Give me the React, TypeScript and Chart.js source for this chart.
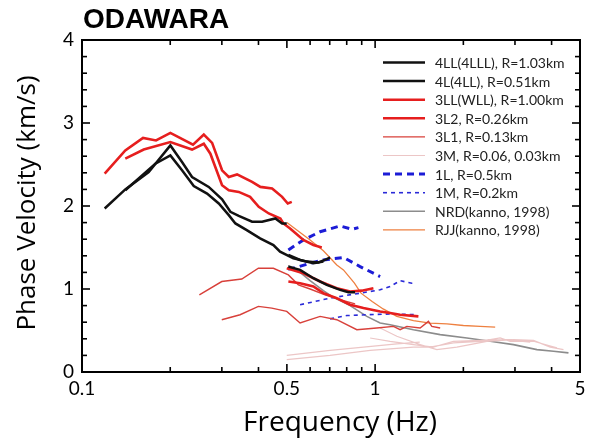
import React, { useEffect, useRef } from 'react';
import { Chart, registerables } from 'chart.js';
Chart.register(...registerables);

type P = [number, number];

// Axis ticks
const xTickValues = [0.1, 0.2, 0.3, 0.4, 0.5, 0.6, 0.7, 0.8, 0.9, 1, 2, 3, 4, 5];
const xTickLabels = ['0.1', '0.5', '1', '5'];
const yMajor = [0, 1, 2, 3, 4];

// 4LL(4LLL), R=1.03km
const ll4Main: P[] = [[0.1195, 1.97], [0.1405, 2.2], [0.1689, 2.41], [0.2002, 2.73], [0.2194, 2.53], [0.2374, 2.35], [0.2706, 2.23], [0.3005, 2.08], [0.3208, 1.93], [0.3426, 1.88], [0.3804, 1.81], [0.4116, 1.81], [0.4568, 1.85], [0.4816, 1.79], [0.4995, 1.79]];
const ll4High: P[] = [[0.5059, 1.41], [0.5546, 1.35], [0.6157, 1.31], [0.6661, 1.33]];
// 4L(4LL), R=0.51km
const l4Main: P[] = [[0.1405, 2.19], [0.1779, 2.51], [0.2002, 2.61], [0.2194, 2.43], [0.2406, 2.24], [0.2671, 2.15], [0.2928, 2.03], [0.3168, 1.89], [0.3337, 1.79], [0.3648, 1.71], [0.4051, 1.61], [0.4497, 1.53], [0.474, 1.45], [0.5263, 1.37], [0.5847, 1.33], [0.6405, 1.32], [0.6839, 1.36], [0.7019, 1.38]];
const l4High: P[] = [[0.5059, 1.27], [0.5546, 1.23], [0.6157, 1.13], [0.6839, 1.05], [0.7596, 0.99], [0.8106, 0.96], [0.8545, 0.96]];
// 3LL(WLL), R=1.00km
const ll3Main: P[] = [[0.1195, 2.39], [0.1405, 2.67], [0.1615, 2.82], [0.1789, 2.79], [0.2002, 2.88], [0.2392, 2.74], [0.2603, 2.86], [0.2779, 2.76], [0.3005, 2.43], [0.3168, 2.35], [0.3381, 2.38], [0.3804, 2.29], [0.406, 2.23], [0.4452, 2.21], [0.4816, 2.11], [0.5035, 2.03], [0.5196, 2.05]];
const ll3High: P[] = [[0.4995, 1.25], [0.5693, 1.19], [0.6491, 1.09], [0.74, 1.01], [0.8216, 0.97], [0.9008, 0.98], [0.9867, 1.01]];
// 3L2, R=0.26km
const l32Main: P[] = [[0.1405, 2.57], [0.1624, 2.68], [0.2002, 2.77], [0.2374, 2.68], [0.2603, 2.75], [0.2741, 2.63], [0.3005, 2.25], [0.3168, 2.19], [0.3426, 2.17], [0.3745, 2.11], [0.4009, 1.99], [0.4337, 1.91], [0.4751, 1.85], [0.4864, 1.79], [0.5128, 1.73], [0.5693, 1.59], [0.6157, 1.53], [0.6578, 1.5]];
const l32High: P[] = [[0.5059, 1.09], [0.5546, 1.07], [0.6157, 1.03], [0.6661, 0.95], [0.74, 0.89], [0.8216, 0.81], [0.9123, 0.77], [1.04, 0.73], [1.125, 0.71], [1.217, 0.69], [1.405, 0.67]];
// 3L1, R=0.13km
const l31Upper: P[] = [[0.2514, 0.93], [0.2998, 1.09], [0.3508, 1.12], [0.3997, 1.25], [0.4497, 1.25], [0.5059, 1.17], [0.5473, 1.05], [0.6, 1.0], [0.675, 0.93], [0.7596, 0.87], [0.8545, 0.82]];
const l31Lower: P[] = [[0.2998, 0.63], [0.3462, 0.69], [0.3997, 0.79], [0.4441, 0.77], [0.4995, 0.73], [0.5546, 0.59], [0.6491, 0.67], [0.74, 0.63], [0.866, 0.51], [1.013, 0.53], [1.155, 0.55], [1.217, 0.51], [1.283, 0.55], [1.424, 0.53], [1.52, 0.61], [1.561, 0.55], [1.667, 0.53]];
// 3M, R=0.06, 0.03km
const m3a: P[] = [[0.4995, 0.2], [0.7019, 0.26], [0.9123, 0.3], [1.186, 0.34], [1.42, 0.36]];
const m3b: P[] = [[0.4995, 0.15], [0.7019, 0.2], [0.9615, 0.26], [1.351, 0.3], [1.54, 0.3], [1.85, 0.35], [2.282, 0.37], [2.671, 0.41], [2.888, 0.37], [3.47, 0.37], [4.17, 0.29]];
const m3c: P[] = [[0.9615, 0.41], [1.125, 0.37], [1.351, 0.33], [1.581, 0.3], [1.85, 0.37], [2.282, 0.38], [2.778, 0.39], [3.381, 0.36]];
const m3d: P[] = [[1.04, 0.53], [1.186, 0.43], [1.424, 0.33], [1.624, 0.27], [1.9, 0.3], [2.406, 0.37], [2.965, 0.39], [3.47, 0.38], [3.956, 0.3], [4.392, 0.27]];
// 1L, R=0.5km
const l1a: P[] = [[0.5059, 1.47], [0.5693, 1.59], [0.6491, 1.69], [0.7596, 1.76], [0.8326, 1.72], [0.877, 1.74]];
const l1b: P[] = [[0.5047, 1.24], [0.5263, 1.25], [0.6, 1.31], [0.6661, 1.35], [0.7797, 1.38], [0.8888, 1.27], [1.04, 1.15]];
// 1M, R=0.2km
const m1a: P[] = [[0.5546, 0.81], [0.7019, 0.89], [0.8888, 0.95], [1.04, 0.99], [1.125, 1.03], [1.217, 1.1], [1.335, 1.07], [1.36, 1.07]];
const m1b: P[] = [[0.7019, 0.64], [0.8006, 0.68], [0.937, 0.69], [1.155, 0.7], [1.388, 0.69]];
// NRD(kanno, 1998)
const nrd: P[] = [[0.5047, 1.28], [0.5263, 1.26], [0.5546, 1.2], [0.6, 1.1], [0.6661, 0.98], [0.72, 0.9], [0.8216, 0.8], [0.937, 0.67], [1.04, 0.59], [1.125, 0.57], [1.351, 0.51], [1.667, 0.45], [2.056, 0.41], [2.469, 0.37], [2.965, 0.33], [3.564, 0.27], [4.06, 0.25], [4.567, 0.23]];
// RJJ(kanno, 1998)
const rjj: P[] = [[0.5, 1.8], [0.5405, 1.71], [0.6, 1.59], [0.666, 1.46], [0.74, 1.29], [0.7797, 1.23], [0.85, 1.07], [0.895, 0.95], [0.977, 0.85], [1.065, 0.76], [1.186, 0.67], [1.351, 0.62], [1.54, 0.59], [1.757, 0.58], [2.001, 0.56], [2.282, 0.55], [2.568, 0.54]];

const legendLabels = ['4LL(4LLL), R=1.03km', '4L(4LL), R=0.51km', '3LL(WLL), R=1.00km', '3L2, R=0.26km', '3L1, R=0.13km', '3M, R=0.06, 0.03km', '1L, R=0.5km', '1M, R=0.2km', 'NRD(kanno, 1998)', 'RJJ(kanno, 1998)'];

function join(...segs: P[][]) {
  const out: { x: number; y: number | null }[] = [];
  segs.forEach((s, i) => {
    if (i > 0) out.push({ x: s[0][0], y: null });
    s.forEach(([x, y]) => out.push({ x, y }));
  });
  return out;
}

const FONT = 'Lato, "Open Sans", sans-serif';
const TITLE_FONT = '"Open Sans", Lato, sans-serif';

const decoPlugin = {
  id: 'deco',
  afterDraw(chart: any) {
    const { ctx, chartArea: a, scales } = chart;
    const xs = scales.x;
    const ys = scales.y;
    ctx.save();
    ctx.strokeStyle = '#000';
    ctx.lineWidth = 2;
    ctx.strokeRect(a.left, a.top, a.right - a.left, a.bottom - a.top);
    ctx.lineWidth = 1.6;
    const ln = (x1: number, y1: number, x2: number, y2: number) => {
      ctx.beginPath();
      ctx.moveTo(x1, y1);
      ctx.lineTo(x2, y2);
      ctx.stroke();
    };
    xTickValues.forEach((v) => {
      const px = xs.getPixelForValue(v);
      if (px <= a.left + 1 || px >= a.right - 1) return;
      const len = v === 0.5 || v === 1 ? 8 : 5;
      ln(px, a.bottom, px, a.bottom - len);
      ln(px, a.top, px, a.top + len);
    });
    for (let i = 1; i < 20; i++) {
      const v = i * 0.2;
      const py = ys.getPixelForValue(v);
      const len = i % 5 === 0 ? 8 : 5;
      ln(a.left, py, a.left + len, py);
      ln(a.right, py, a.right - len, py);
    }
    // title
    ctx.fillStyle = '#000';
    ctx.textBaseline = 'alphabetic';
    ctx.textAlign = 'left';
    ctx.font = 'bold 28px "Liberation Sans", Arial, sans-serif';
    ctx.fillText('ODAWARA', 83, 28);
    // axis titles
    ctx.textAlign = 'center';
    ctx.textBaseline = 'middle';
    ctx.font = `28px ${TITLE_FONT}`;
    ctx.fillText('Frequency (Hz)', 340, 423);
    ctx.save();
    ctx.translate(28, 203);
    ctx.rotate(-Math.PI / 2);
    ctx.font = `26px ${TITLE_FONT}`;
    ctx.fillText('Phase Velocity (km/s)', 0, 0);
    ctx.restore();
    // legend
    ctx.font = `14px ${FONT}`;
    ctx.textAlign = 'left';
    chart.data.datasets.forEach((ds: any, i: number) => {
      const y = 62.5 + i * 18.6;
      ctx.save();
      ctx.strokeStyle = ds.borderColor;
      ctx.lineWidth = ds.borderWidth;
      ctx.setLineDash(ds.borderDash || []);
      ln(383, y, 425, y);
      ctx.restore();
      ctx.fillStyle = '#222';
      ctx.fillText(ds.label, 435, y + 1);
    });
    ctx.restore();
  },
};

export default function App() {
  const ref = useRef<HTMLCanvasElement>(null);
  useEffect(() => {
    const mk = (i: number, data: any, color: string, width: number, dash?: number[]) => ({
      label: legendLabels[i],
      data,
      borderColor: color,
      backgroundColor: color,
      borderWidth: width,
      borderDash: dash || [],
      pointRadius: 0,
      fill: false,
      tension: 0,
      spanGaps: false,
      order: i,
    });
    const chart = new Chart(ref.current!, {
      type: 'line',
      data: {
        datasets: [
          mk(0, join(ll4Main, ll4High), '#111111', 2.5),
          mk(1, join(l4Main, l4High), '#111111', 2.5),
          mk(2, join(ll3Main, ll3High), '#e61e1e', 2.6),
          mk(3, join(l32Main, l32High), '#e61e1e', 2.6),
          mk(4, join(l31Upper, l31Lower), '#d8403a', 1.4),
          mk(5, join(m3a, m3b, m3c, m3d), '#ecc6c6', 1.2),
          mk(6, join(l1a, l1b), '#1c1cd6', 3, [7, 5]),
          mk(7, join(m1a, m1b), '#2a2ad8', 1.6, [4, 4]),
          mk(8, nrd, '#8c8c8c', 1.6),
          mk(9, rjj, '#ee8040', 1.3),
        ] as any,
      },
      options: {
        responsive: false,
        animation: false,
        events: [],
        layout: { padding: { left: 0, right: 13, top: 40, bottom: 0 } },
        plugins: { legend: { display: false }, tooltip: { enabled: false }, title: { display: false } },
        scales: {
          x: {
            type: 'logarithmic',
            min: 0.1,
            max: 5,
            grid: { display: false, drawTicks: false },
            border: { display: false },
            afterBuildTicks: (s: any) => {
              s.ticks = xTickValues.map((v) => ({ value: v }));
            },
            afterFit: (s: any) => {
              s.height = 73;
            },
            ticks: {
              autoSkip: false,
              maxRotation: 0,
              padding: 5,
              color: '#000',
              font: { family: FONT, size: 19 },
              callback: (v: any) => {
                const s = String(Number(v));
                return xTickLabels.includes(s) ? s : '';
              },
            },
          },
          y: {
            type: 'linear',
            min: 0,
            max: 4,
            grid: { display: false, drawTicks: false },
            border: { display: false },
            afterBuildTicks: (s: any) => {
              s.ticks = yMajor.map((v) => ({ value: v }));
            },
            afterFit: (s: any) => {
              s.width = 82;
            },
            ticks: {
              padding: 8,
              color: '#000',
              font: { family: FONT, size: 19 },
              callback: (v: any) => String(v),
            },
          },
        },
      },
      plugins: [decoPlugin],
    });
    return () => chart.destroy();
  }, []);
  return (
    <div style={{ position: 'fixed', left: 0, top: 0, width: 593, height: 445, background: '#fff' }}>
      <canvas ref={ref} width={593} height={445} />
    </div>
  );
}
